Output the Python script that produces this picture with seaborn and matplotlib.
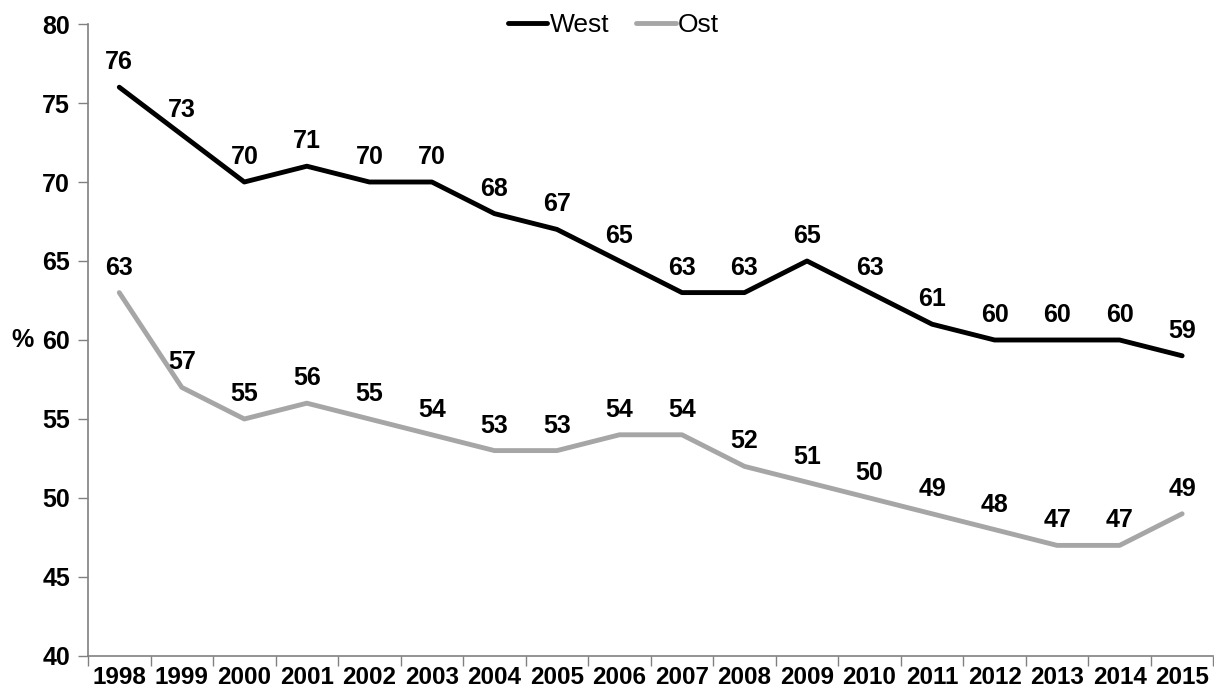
import matplotlib
matplotlib.use("Agg")
import matplotlib.pyplot as plt
import numpy as np
import pandas as pd
import seaborn as sns

years = [1998, 1999, 2000, 2001, 2002, 2003, 2004, 2005, 2006,
         2007, 2008, 2009, 2010, 2011, 2012, 2013, 2014, 2015]
west = [76, 73, 70, 71, 70, 70, 68, 67, 65, 63, 63, 65, 63, 61, 60, 60, 60, 59]
ost = [63, 57, 55, 56, 55, 54, 53, 53, 54, 54, 52, 51, 50, 49, 48, 47, 47, 49]

sns.set_style("white")
plt.rcParams['font.family'] = ['Liberation Sans', 'DejaVu Sans']
plt.rcParams['text.color'] = 'black'
plt.rcParams['xtick.color'] = 'black'
plt.rcParams['ytick.color'] = 'black'
plt.rcParams['axes.labelcolor'] = 'black'

pos = list(range(len(years)))
df = pd.DataFrame({"pos": pos * 2,
                   "value": west + ost,
                   "series": ["West"] * len(years) + ["Ost"] * len(years)})

fig = plt.figure(figsize=(12.14, 6.98), dpi=100)
ax = fig.add_axes([0.0725, 0.0602, 0.927, 0.9054])

sns.lineplot(data=df, x="pos", y="value", hue="series",
             palette={"West": "black", "Ost": "#a6a6a6"},
             linewidth=3.5, ax=ax, legend=True)

# value labels above points
for vals in (west, ost):
    for x, v in zip(pos, vals):
        ax.annotate(str(v), (x, v), xytext=(0, 18), textcoords="offset points",
                    ha="center", va="center", fontsize=18, fontweight="bold")

ax.set_xlim(-0.5, len(years) - 0.5)
ax.set_ylim(40, 80)
ax.set_yticks(range(40, 81, 5))
ax.set_yticklabels([str(t) for t in range(40, 81, 5)], fontsize=18, fontweight="bold")

# category axis: tick marks at boundaries, labels centered
ax.set_xticks(np.arange(-0.5, len(years), 1.0))
ax.set_xticklabels([])
ax.set_xticks(pos, minor=True)
ax.set_xticklabels([str(y) for y in years], minor=True, fontsize=17.5, fontweight="bold")
ax.tick_params(axis="x", which="minor", length=0, pad=7)
ax.tick_params(axis="x", which="major", direction="out", length=7, width=1,
               color="#808080", bottom=True)
ax.tick_params(axis="y", direction="out", length=7, width=1, color="#808080",
               left=True, pad=6)

ax.set_xlabel("")
ax.set_ylabel("%", fontsize=18, fontweight="bold", rotation=0, labelpad=14, va="center")

for side in ("top", "right"):
    ax.spines[side].set_visible(False)
for side in ("left", "bottom"):
    ax.spines[side].set_color("#808080")
    ax.spines[side].set_linewidth(1.2)

leg = ax.legend(loc="upper center", bbox_to_anchor=(0.467, 1.055), ncol=2,
                frameon=False, fontsize=19, handlelength=1.5, handletextpad=0.1,
                columnspacing=1.0, title=None)
for line in leg.get_lines():
    line.set_linewidth(3.5)

fig.savefig("out.png", dpi=100, facecolor="white")
